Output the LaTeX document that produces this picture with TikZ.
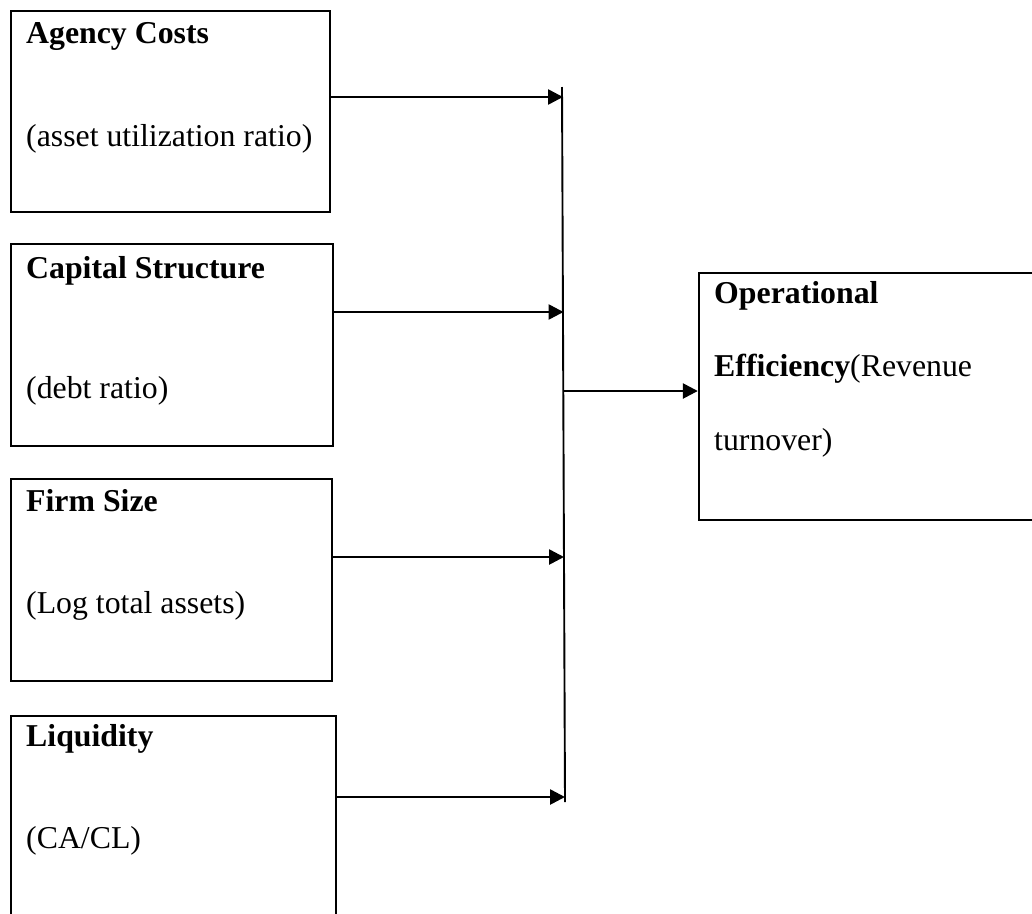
\documentclass[tikz,border=0pt]{standalone}
\usepackage{fontspec}
\setmainfont{Liberation Serif}
\usetikzlibrary{arrows.meta}
\begin{document}
\begin{tikzpicture}[x=1pt,y=-1pt,
  varbox/.style={draw=black,line width=2.4pt,rectangle,inner sep=0pt},
  lbl/.style={anchor=base west,inner sep=0pt,font=\fontsize{31.8}{38}\selectfont},
  conn/.style={line width=2.6pt,-{Triangle[length=15pt,width=15pt]}},
  trunk/.style={line width=1.9pt}]
\useasboundingbox (0,0) rectangle (1032,913);
\clip (0,0) rectangle (1032,913);
% boxes
\node[varbox,minimum width=319pt,minimum height=201pt] (b1) at (170.5,111.5) {};
\node[varbox,minimum width=322pt,minimum height=202pt] (b2) at (172,345) {};
\node[varbox,minimum width=321pt,minimum height=202pt] (b3) at (171.5,580) {};
\node[varbox,minimum width=325pt,minimum height=240pt] (b4) at (173.5,836) {};
\node[varbox,minimum width=345pt,minimum height=247pt] (op) at (871.5,396.5) {};
% texts
\node[lbl] (t1a) at (26,43) {\textbf{Agency Costs}};
\node[lbl] (t1b) at (26,146) {(asset utilization ratio)};
\node[lbl] (t2a) at (26,278) {\textbf{Capital Structure}};
\node[lbl] (t2b) at (26,398) {(debt ratio)};
\node[lbl] (t3a) at (26,511) {\textbf{Firm Size}};
\node[lbl] (t3b) at (26,613) {(Log total assets)};
\node[lbl] (t4a) at (26,746) {\textbf{Liquidity}};
\node[lbl] (t4b) at (26,848) {(CA/CL)};
\node[lbl] (toa) at (714,303) {\textbf{Operational}};
\node[lbl] (tob) at (714,376) {\textbf{Efficiency}(Revenue};
\node[lbl] (toc) at (714,450) {turnover)};
% trunk
\coordinate (vtop) at (562,87);
\coordinate (vbot) at (565,802);
\draw[trunk] (vtop) -- (vbot);
\coordinate (j1) at (563,97);
\coordinate (j2) at (563.5,312);
\coordinate (j3) at (564,557);
\coordinate (j4) at (565,797);
\coordinate (jo) at (563.5,391);
\draw[conn] (b1.east |- j1) -- (j1);
\draw[conn] (b2.east |- j2) -- (j2);
\draw[conn] (b3.east |- j3) -- (j3);
\draw[conn] (b4.east |- j4) -- (j4);
\draw[conn] (jo) -- (op.west |- jo);
\end{tikzpicture}
\end{document}
